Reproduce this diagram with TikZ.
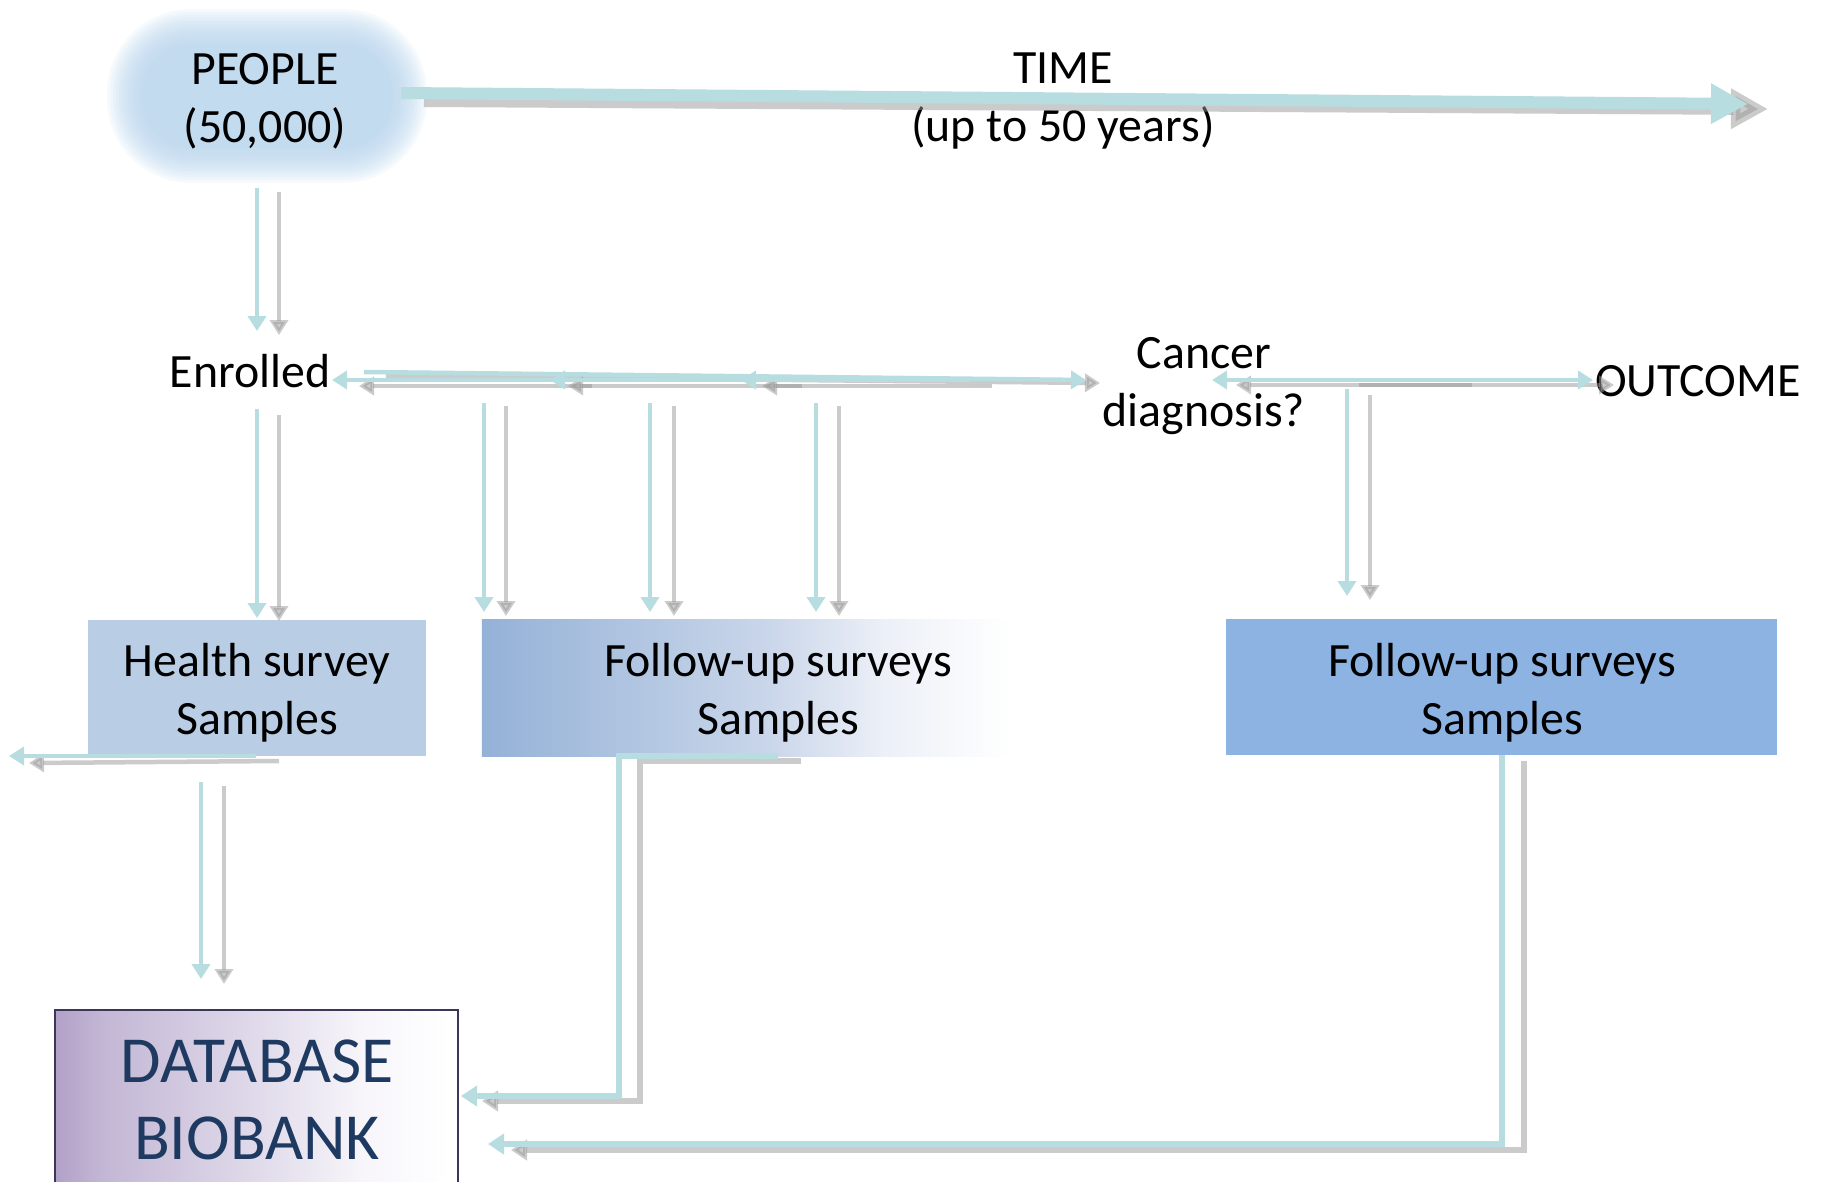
\documentclass[tikz,border=0pt]{standalone}
\usepackage{fontspec}
\setmainfont{Carlito}
\usetikzlibrary{arrows.meta}
\definecolor{cy}{HTML}{B7DDE1}
\definecolor{gr}{HTML}{999999}
\definecolor{blobc}{HTML}{B9D6EF}
\definecolor{hsbox}{HTML}{B9CDE5}
\definecolor{rbox}{HTML}{8DB3E2}
\definecolor{fuA}{HTML}{94B1D7}
\definecolor{fuB}{HTML}{A3BCDC}
\definecolor{fuC}{HTML}{CAD6EA}
\definecolor{fuD}{HTML}{ECF0F7}
\definecolor{dbA}{HTML}{B2A1C7}
\definecolor{dbB}{HTML}{C3B7D5}
\definecolor{dbC}{HTML}{E0DAEA}
\definecolor{dbD}{HTML}{F7F5FA}
\definecolor{dbline}{HTML}{3E3658}
\definecolor{dbtext}{HTML}{1F3A60}
\pgfdeclarehorizontalshading{fushade}{100bp}{color(0bp)=(fuA); color(25bp)=(fuA); color(32bp)=(fuB); color(50bp)=(fuC); color(60bp)=(fuD); color(71bp)=(white); color(100bp)=(white)}
\pgfdeclarehorizontalshading{dbshade}{100bp}{color(0bp)=(dbA); color(25bp)=(dbA); color(31bp)=(dbB); color(50bp)=(dbC); color(63bp)=(dbD); color(74bp)=(white); color(100bp)=(white)}
\begin{document}
\begin{tikzpicture}[x=0.01cm,y=-0.01cm,
  txt/.style={font=\fontsize{13.6pt}{16.5pt}\selectfont, align=center, inner sep=0pt},
  dbtxt/.style={font=\fontsize{18.7pt}{22pt}\selectfont, align=center, inner sep=0pt, text=dbtext},
  boxbase/.style={rectangle, inner sep=0pt, minimum height=1.36cm},
  cyt/.style={draw=cy, line width=0.12cm, -{Triangle[width=0.38cm,length=0.37cm]}},
  grt/.style={draw=gr, opacity=0.5, line width=0.12cm, -{Triangle[width=0.38cm,length=0.37cm]}},
  cyl/.style={draw=cy, line width=0.045cm, -{Triangle[width=0.18cm,length=0.15cm]}},
  grl/.style={draw=gr, opacity=0.5, line width=0.045cm, -{Triangle[width=0.18cm,length=0.15cm]}},
  cye/.style={draw=cy, line width=0.055cm, -{Triangle[width=0.2cm,length=0.16cm]}},
  gre/.style={draw=gr, opacity=0.5, line width=0.055cm, -{Triangle[width=0.2cm,length=0.16cm]}}
]
\useasboundingbox (0,0) rectangle (1821,1181);
\fill[white] (0,0) rectangle (1821,1181);

% fuzzy blob behind PEOPLE
\foreach \d in {0,3,...,36}{
  \pgfmathsetlengthmacro{\rc}{(84-\d)*0.01cm}
  \fill[blobc, opacity=0.12, rounded corners=\rc] (107+\d,9+\d) rectangle (427-\d,183-\d);
}

% boxes
\node[boxbase, fill=hsbox, minimum width=3.38cm] (health) at (257,688) {};
\node[boxbase, shading=fushade, minimum width=5.75cm] (fu1) at (769.5,688) {};
\node[boxbase, fill=rbox, minimum width=5.51cm] (fu2) at (1501.5,687) {};
\path[shading=dbshade, draw=dbline, line width=0.015cm] (55,1010) rectangle (458,1240);

% text nodes
\node[txt] (people) at (265,101) {PEOPLE\\(50,000)};
\node[txt] (time) at (1063,101) {TIME\\(up to 50 years)};
\node[txt] (enrolled) at (250,371) {Enrolled};
\node[txt] (cancer) at (1204,386) {Cancer\\diagnosis?};
\node[txt] (outcome) at (1698,381) {OUTCOME};
\node[txt] (healtht) at (257,693) {Health survey\\Samples};
\node[txt] (fu1t) at (778,693) {Follow-up surveys\\Samples};
\node[txt] (fu2t) at (1502,693) {Follow-up surveys\\Samples};
\node[dbtxt] (db) at (257,1100) {DATABASE\\BIOBANK};

% coordinates
\coordinate (tc1) at (401,93);   \coordinate (tc2) at (1748,104);
\coordinate (tg1) at (424,101);  \coordinate (tg2) at (1768,109);
\coordinate (pec1) at (257,188); \coordinate (pec2) at (257,331);
\coordinate (peg1) at (279,192); \coordinate (peg2) at (279,335);
\coordinate (erc1) at (364,372); \coordinate (erc2) at (1086,380);
\coordinate (erg1) at (386,376); \coordinate (erg2) at (1100,383);
\coordinate (elc1a) at (570,380); \coordinate (elc1b) at (332,380);
\coordinate (elc2a) at (780,380); \coordinate (elc2b) at (550,380);
\coordinate (elc3a) at (970,380); \coordinate (elc3b) at (741,380);
\coordinate (elg1a) at (592,386); \coordinate (elg1b) at (359,386);
\coordinate (elg2a) at (802,386); \coordinate (elg2b) at (568,386);
\coordinate (elg3a) at (992,386); \coordinate (elg3b) at (762,386);
\coordinate (clc1) at (1458,380); \coordinate (clc2) at (1212,380);
\coordinate (crc1) at (1340,380); \coordinate (crc2) at (1593,380);
\coordinate (clg1) at (1472,385); \coordinate (clg2) at (1236,385);
\coordinate (crg1) at (1359,385); \coordinate (crg2) at (1614,385);
\coordinate (cvc1) at (1347,389); \coordinate (cvc2) at (1347,596);
\coordinate (cvg1) at (1370,395); \coordinate (cvg2) at (1370,600);
\coordinate (ehc1) at (257,409); \coordinate (ehc2) at (257,618);
\coordinate (ehg1) at (279,415); \coordinate (ehg2) at (279,621);
\coordinate (v1c1) at (484,403); \coordinate (v1c2) at (484,612);
\coordinate (v1g1) at (506,406); \coordinate (v1g2) at (506,616);
\coordinate (v2c1) at (650,403); \coordinate (v2c2) at (650,612);
\coordinate (v2g1) at (674,406); \coordinate (v2g2) at (674,616);
\coordinate (v3c1) at (816,403); \coordinate (v3c2) at (816,612);
\coordinate (v3g1) at (839,406); \coordinate (v3g2) at (839,616);
\coordinate (hlc1) at (256,756); \coordinate (hlc2) at (9,756);
\coordinate (hlg1) at (279,761); \coordinate (hlg2) at (29,763);
\coordinate (hdc1) at (201,782); \coordinate (hdc2) at (201,979);
\coordinate (hdg1) at (224,786); \coordinate (hdg2) at (224,984);
\coordinate (fec1) at (778,756); \coordinate (fec2) at (461,1096);
\coordinate (feg1) at (801,761); \coordinate (feg2) at (482,1101);
\coordinate (rec1) at (1502,755); \coordinate (rec2) at (488,1144);
\coordinate (reg1) at (1524,761); \coordinate (reg2) at (511,1150);

% TIME arrow
\draw[grt] (tg1) -- (tg2);
\draw[cyt] (tc1) -- (tc2);

% gray shadows
\draw[grl] (peg1) -- (peg2);
\draw[grl] (erg1) -- (erg2);
\draw[grl] (elg1a) -- (elg1b);
\draw[grl] (elg2a) -- (elg2b);
\draw[grl] (elg3a) -- (elg3b);
\draw[grl] (clg1) -- (clg2);
\draw[grl] (crg1) -- (crg2);
\draw[grl] (cvg1) -- (cvg2);
\draw[grl] (ehg1) -- (ehg2);
\draw[grl] (v1g1) -- (v1g2);
\draw[grl] (v2g1) -- (v2g2);
\draw[grl] (v3g1) -- (v3g2);
\draw[grl] (hlg1) -- (hlg2);
\draw[grl] (hdg1) -- (hdg2);
\draw[gre] (feg1) -- (feg1 -| 640,0) |- (feg2);
\draw[gre] (reg1) |- (reg2);

% cyan arrows
\draw[cyl] (pec1) -- (pec2);
\draw[cyl] (erc1) -- (erc2);
\draw[cyl] (elc1a) -- (elc1b);
\draw[cyl] (elc2a) -- (elc2b);
\draw[cyl] (elc3a) -- (elc3b);
\draw[cyl] (clc1) -- (clc2);
\draw[cyl] (crc1) -- (crc2);
\draw[cyl] (cvc1) -- (cvc2);
\draw[cyl] (ehc1) -- (ehc2);
\draw[cyl] (v1c1) -- (v1c2);
\draw[cyl] (v2c1) -- (v2c2);
\draw[cyl] (v3c1) -- (v3c2);
\draw[cyl] (hlc1) -- (hlc2);
\draw[cyl] (hdc1) -- (hdc2);
\draw[cye] (fec1) -- (fec1 -| 619,0) |- (fec2);
\draw[cye] (rec1) |- (rec2);
\end{tikzpicture}
\end{document}
